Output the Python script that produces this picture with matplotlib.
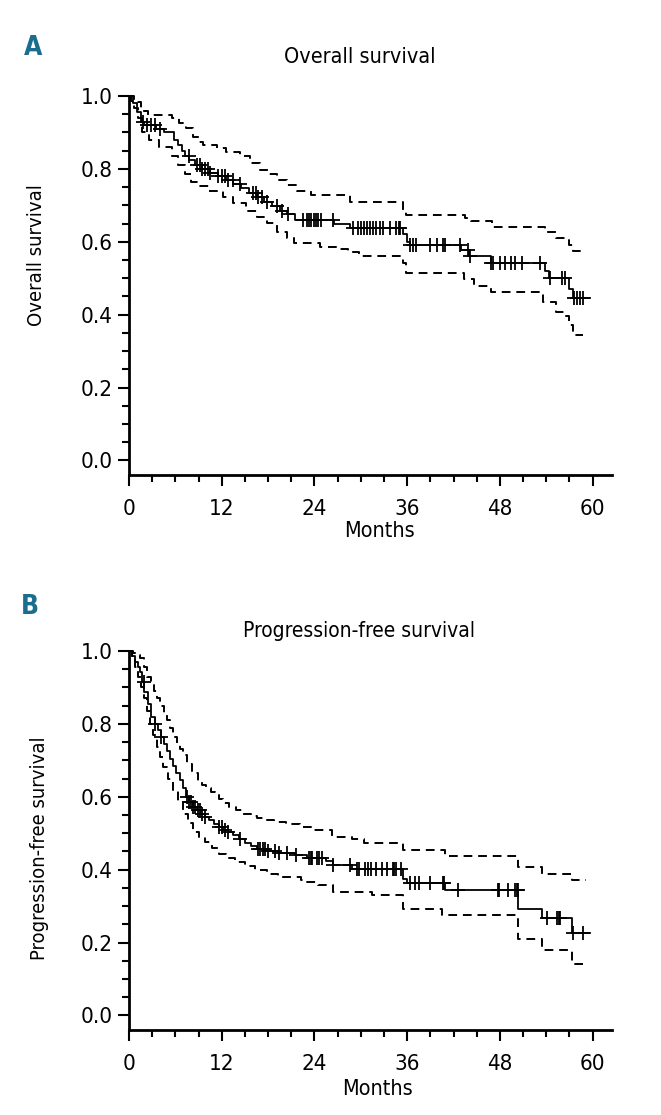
import numpy as np
import matplotlib
matplotlib.use('Agg')
import matplotlib.pyplot as plt

plt.rcParams['font.family'] = ['DejaVu Sans']
plt.rcParams['font.stretch'] = 'condensed'

# Overall survival: Kaplan-Meier steps (months, survival) and 95% CI
os_t = [0, 0.5, 1.0, 1.5, 2.0, 3.5, 4.5, 5.8, 6.3, 6.8, 7.3, 7.8, 8.5, 9.5, 10.5, 11.5, 12.5,
        13.5, 14.5, 15.5, 16.5, 17.5, 18.5, 19.5, 20.5, 21.5, 26.5, 28.6, 35.4, 36.0, 36.4,
        43.0, 44.0, 46.9, 53.8, 54.4, 57.0, 57.4]
os_s = [1.0, 0.98, 0.955, 0.93, 0.92, 0.91, 0.90, 0.88, 0.865, 0.85, 0.835, 0.825, 0.81, 0.80,
        0.79, 0.78, 0.77, 0.758, 0.748, 0.735, 0.722, 0.71, 0.697, 0.685, 0.675, 0.66, 0.65,
        0.638, 0.62, 0.60, 0.59, 0.578, 0.56, 0.542, 0.52, 0.50, 0.47, 0.446]
os_end = 59.7
os_up_t = [0, 0.6, 1.2, 1.6, 2.5, 5.5, 6.5, 7.4, 8.3, 9.0, 9.6, 11.4, 12.6, 14.4, 15.7, 17.0,
           18.0, 19.1, 20.4, 21.8, 23.5, 28.6, 35.4, 35.8, 43.5, 44.3, 47.0, 53.8, 55.2, 57.0, 57.5]
os_up_s = [1.0, 0.99, 0.984, 0.96, 0.948, 0.94, 0.925, 0.912, 0.888, 0.875, 0.866, 0.857, 0.847,
           0.834, 0.816, 0.797, 0.786, 0.77, 0.756, 0.738, 0.729, 0.71, 0.683, 0.674, 0.666,
           0.656, 0.64, 0.628, 0.61, 0.592, 0.576]
os_up_end = 59.2
os_lo_t = [0, 0.3, 0.6, 1.2, 1.7, 2.6, 3.9, 5.5, 6.4, 7.2, 8.0, 9.1, 10.4, 12.1, 13.4, 15.2,
           16.5, 17.8, 19.1, 20.4, 21.4, 24.7, 26.9, 28.4, 29.7, 35.4, 35.9, 43.3, 44.6, 46.9,
           53.6, 55.2, 56.3, 57.0, 57.4]
os_lo_s = [1.0, 0.985, 0.967, 0.939, 0.902, 0.879, 0.861, 0.834, 0.811, 0.785, 0.765, 0.752,
           0.738, 0.724, 0.706, 0.685, 0.669, 0.651, 0.628, 0.61, 0.596, 0.587, 0.58, 0.573,
           0.562, 0.541, 0.514, 0.498, 0.479, 0.461, 0.434, 0.406, 0.395, 0.372, 0.345]
os_lo_end = 58.8
os_cens = [1.8, 2.3, 2.8, 3.3, 4.0, 7.7, 8.8, 9.2, 9.5, 9.8, 10.2, 10.5, 11.5, 12.0, 12.4, 12.8,
           13.4, 14.3, 16.0, 16.4, 16.7, 17.2, 17.8, 19.2, 19.8, 20.6, 22.5, 23.0, 23.3, 23.6,
           23.9, 24.2, 24.5, 24.8, 26.4, 29.0, 29.6, 30.0, 30.4, 30.8, 31.2, 31.6, 32.0, 32.5,
           32.9, 33.8, 34.6, 34.9, 35.1, 36.4, 36.8, 37.2, 38.9, 39.8, 40.6, 40.9, 42.8, 43.9,
           44.1, 46.9, 47.1, 48.0, 48.7, 49.4, 50.0, 50.8, 53.2, 54.5, 56.0, 56.4, 57.6, 58.0,
           58.4, 58.8]

# Progression-free survival
pfs_t = [0, 0.4, 0.8, 1.1, 1.4, 1.7, 2.0, 2.4, 2.9, 3.3, 3.7, 4.1, 4.5, 4.9, 5.3, 5.7, 6.1, 6.6,
         7.0, 7.4, 7.8, 8.3, 8.8, 9.3, 9.8, 10.4, 11.0, 11.6, 12.2, 12.8, 13.4, 14.2, 15.0, 15.8,
         16.6, 17.8, 19.3, 21.5, 23.0, 25.5, 26.4, 28.8, 35.5, 36.0, 40.9, 50.4, 53.4, 57.3]
pfs_s = [1.0, 0.985, 0.97, 0.957, 0.943, 0.915, 0.888, 0.855, 0.82, 0.80, 0.783, 0.765, 0.745,
         0.725, 0.705, 0.685, 0.665, 0.646, 0.625, 0.60, 0.585, 0.572, 0.563, 0.554, 0.545,
         0.535, 0.526, 0.517, 0.51, 0.502, 0.495, 0.483, 0.472, 0.465, 0.458, 0.452, 0.447,
         0.44, 0.431, 0.425, 0.412, 0.403, 0.375, 0.363, 0.345, 0.293, 0.266, 0.226]
pfs_end = 59.6
pfs_up_t = [0, 0.5, 1.0, 1.4, 1.9, 2.3, 2.8, 3.2, 3.6, 4.0, 4.5, 4.9, 5.3, 5.7, 6.2, 6.6, 7.0,
            7.5, 8.1, 8.9, 9.5, 10.0, 10.6, 11.1, 11.7, 12.2, 13.0, 13.8, 14.8, 15.8, 16.6,
            17.5, 18.8, 20.3, 22.1, 23.5, 26.3, 28.8, 30.4, 35.5, 40.9, 50.4, 53.4, 57.3]
pfs_up_s = [1.0, 0.995, 0.99, 0.98, 0.955, 0.929, 0.91, 0.89, 0.87, 0.85, 0.83, 0.81, 0.788,
            0.765, 0.745, 0.73, 0.714, 0.69, 0.664, 0.641, 0.632, 0.623, 0.614, 0.604, 0.593,
            0.582, 0.572, 0.563, 0.554, 0.547, 0.541, 0.536, 0.530, 0.524, 0.518, 0.508, 0.49,
            0.483, 0.472, 0.453, 0.437, 0.407, 0.387, 0.371]
pfs_up_end = 59.2
pfs_lo_t = [0, 0.4, 0.8, 1.2, 1.6, 1.9, 2.3, 2.7, 3.1, 3.6, 4.0, 4.4, 5.0, 5.7, 6.3, 7.0, 7.6,
            8.3, 9.0, 9.8, 10.7, 11.6, 12.6, 13.7, 15.0, 16.3, 17.8, 19.3, 22.3, 23.0, 24.5,
            26.4, 31.4, 35.5, 40.5, 50.4, 53.4, 57.3]
pfs_lo_s = [1.0, 0.98, 0.957, 0.93, 0.9, 0.87, 0.835, 0.80, 0.77, 0.737, 0.71, 0.682, 0.65,
            0.618, 0.585, 0.554, 0.528, 0.504, 0.49, 0.476, 0.46, 0.444, 0.432, 0.421, 0.41,
            0.398, 0.389, 0.38, 0.371, 0.366, 0.357, 0.339, 0.33, 0.293, 0.275, 0.211, 0.18,
            0.142]
pfs_lo_end = 58.8
pfs_cens = [1.9, 3.4, 4.2, 7.5, 7.8, 8.0, 8.3, 8.6, 8.9, 9.2, 9.5, 9.8, 11.6, 12.0, 12.4, 12.8,
            14.3, 16.7, 17.0, 17.3, 17.6, 18.0, 18.9, 19.4, 20.4, 21.6, 23.3, 23.5, 23.7, 24.3,
            24.6, 25.0, 26.4, 28.6, 29.5, 29.7, 30.6, 30.9, 31.3, 31.9, 32.8, 33.4, 34.1, 34.3,
            34.5, 35.2, 36.4, 37.0, 37.5, 39.0, 40.6, 40.8, 42.6, 47.7, 47.9, 49.0, 50.0, 50.2,
            50.3, 54.1, 55.4, 55.6, 55.8, 57.5, 58.8]

x_major = [0, 12, 24, 36, 48, 60]
y_major = [0.0, 0.2, 0.4, 0.6, 0.8, 1.0]

TEAL = '#1b6d8f'


def step(ax, t, s, end, **kw):
    t = list(t) + [end]
    s = list(s) + [s[-1]]
    ax.plot(t, s, drawstyle='steps-post', color='black', clip_on=False, **kw)


def panel(ax, t, s, end, up, lo, cens):
    step(ax, up[0], up[1], up[2], lw=1.4, dashes=(4.5, 3))
    step(ax, lo[0], lo[1], lo[2], lw=1.4, dashes=(4.5, 3))
    step(ax, t, s, end, lw=1.3)
    # censored observations sit on the survival step at their time
    idx = np.searchsorted(t, cens, side='right') - 1
    cy = np.asarray(s)[idx]
    ax.plot(cens, cy, ls='none', marker='+', ms=10, mew=1.3, color='black', clip_on=False)

    ax.set_xlim(0, 62.5)
    ax.set_ylim(-0.04, 1.0)
    ax.spines['top'].set_visible(False)
    ax.spines['right'].set_visible(False)
    ax.spines['left'].set_linewidth(2.0)
    ax.spines['bottom'].set_linewidth(2.0)
    ax.set_xticks(x_major)
    ax.set_xticks(np.arange(0, 61, 3), minor=True)
    ax.set_yticks(y_major)
    ax.set_yticks(np.arange(0, 1.001, 0.05), minor=True)
    ax.set_yticklabels([f'{v:.1f}' for v in y_major])
    ax.tick_params(which='major', length=8, width=1.5, labelsize=16)
    ax.tick_params(which='minor', length=5, width=1.5)
    ax.tick_params(axis='x', pad=9)
    ax.tick_params(axis='y', pad=4)


fig = plt.figure(figsize=(6.61, 11.15), dpi=100)
W, H = 661, 1115

axA = fig.add_axes([129 / W, 1 - 475 / H, (612 - 129) / W, 379 / H])
panel(axA, os_t, os_s, os_end, (os_up_t, os_up_s, os_up_end),
      (os_lo_t, os_lo_s, os_lo_end), os_cens)

axB = fig.add_axes([129 / W, 1 - 1030 / H, (612 - 129) / W, 379 / H])
panel(axB, pfs_t, pfs_s, pfs_end, (pfs_up_t, pfs_up_s, pfs_up_end),
      (pfs_lo_t, pfs_lo_s, pfs_lo_end), pfs_cens)

fig.text(33 / W, 1 - 48 / H, 'A', color=TEAL, fontsize=19, fontweight='bold',
         ha='center', va='center')
fig.text(30 / W, 1 - 607 / H, 'B', color=TEAL, fontsize=19, fontweight='bold',
         ha='center', va='center')
fig.text(360 / W, 1 - 57 / H, 'Overall survival', fontsize=15.5, ha='center', va='center')
fig.text(359 / W, 1 - 631 / H, 'Progression-free survival', fontsize=15, ha='center', va='center')
fig.text(37 / W, 1 - 255 / H, 'Overall survival', fontsize=14.5, rotation=90,
         ha='center', va='center')
fig.text(40 / W, 1 - 848 / H, 'Progression-free survival', fontsize=14.5, rotation=90,
         ha='center', va='center')
fig.text(380 / W, 1 - 531 / H, 'Months', fontsize=15.5, ha='center', va='center')
fig.text(378 / W, 1 - 1089 / H, 'Months', fontsize=15.5, ha='center', va='center')

fig.savefig('out.png', dpi=100)
